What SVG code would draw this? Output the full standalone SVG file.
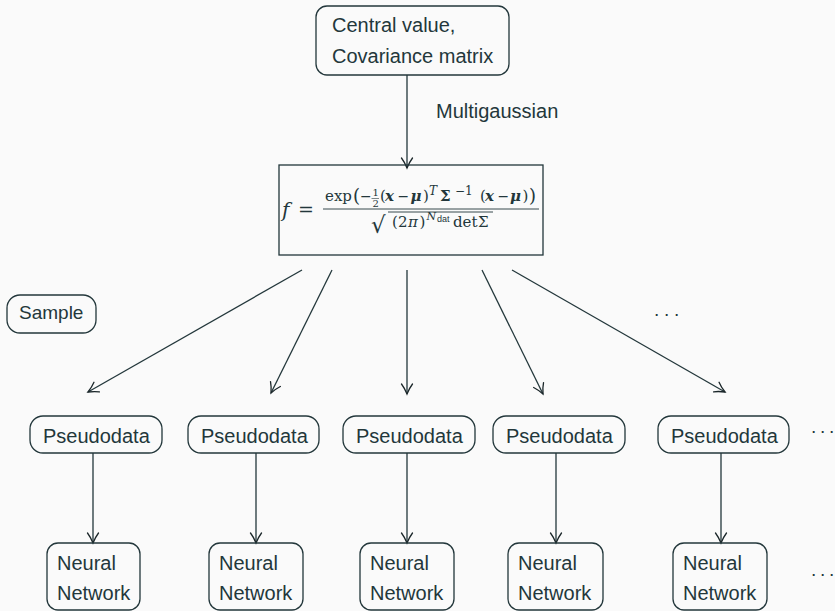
<svg xmlns="http://www.w3.org/2000/svg" width="835" height="611" viewBox="0 0 835 611">
<defs>
<style>
.bg{fill:#fafafa}
.node{fill:none;stroke:#23373b;stroke-width:1.3}
.lbl{font-family:"Liberation Sans",Arial,sans-serif;font-size:20px;fill:#23373b}
.edge{stroke:#23373b;stroke-width:1.3;fill:none}
.m{font-family:"DejaVu Serif","Liberation Serif",serif;font-size:15px;fill:#23373b}
.bi{font-weight:bold;font-style:italic}
.dots{font-family:"Liberation Sans",Arial,sans-serif;font-size:19px;fill:#23373b}
</style>
<marker id="arr" viewBox="-12 -7 14 14" refX="0" refY="0" markerWidth="14" markerHeight="14" markerUnits="userSpaceOnUse" orient="auto">
<path d="M-10,-5.5 C-6,-2.5 -1.5,-0.6 0,0 C-1.5,0.6 -6,2.5 -10,5.5" fill="none" stroke="#1a2629" stroke-width="1.3" stroke-linecap="round"/>
</marker>
</defs>
<rect class="bg" x="0" y="0" width="835" height="611"/>

<g id="connectors">
<line class="edge" x1="407" y1="75" x2="407" y2="168" marker-end="url(#arr)"/>
<line class="edge" x1="302" y1="270" x2="88" y2="392" marker-end="url(#arr)"/>
<line class="edge" x1="332" y1="270" x2="271" y2="393" marker-end="url(#arr)"/>
<line class="edge" x1="407" y1="270" x2="407" y2="394" marker-end="url(#arr)"/>
<line class="edge" x1="482" y1="270" x2="543" y2="394" marker-end="url(#arr)"/>
<line class="edge" x1="512" y1="270" x2="725" y2="392" marker-end="url(#arr)"/>
<line class="edge" x1="93" y1="453" x2="93" y2="543" marker-end="url(#arr)"/>
<line class="edge" x1="256" y1="453" x2="256" y2="543" marker-end="url(#arr)"/>
<line class="edge" x1="407" y1="453" x2="407" y2="543" marker-end="url(#arr)"/>
<line class="edge" x1="556" y1="453" x2="556" y2="543" marker-end="url(#arr)"/>
<line class="edge" x1="721" y1="453" x2="721" y2="543" marker-end="url(#arr)"/>
<text class="lbl" x="436" y="118">Multigaussian</text>
</g>

<g id="input">
<rect class="node" x="316" y="6" width="193" height="69" rx="11"/>
<text class="lbl" x="332" y="32">Central value,</text>
<text class="lbl" x="332" y="63">Covariance matrix</text>
</g>

<g id="formula">
<rect class="node" x="279" y="165" width="264" height="90"/>
<text class="m" style="font-size:20px;font-style:italic" x="282" y="217">f</text>
<text class="m" style="font-size:19px" x="298" y="216">=</text>
<line x1="323" y1="209" x2="539" y2="209" stroke="#23373b" stroke-width="0.9"/>
<text class="m" y="201"><tspan x="325">exp</tspan><tspan x="353" y="202" style="font-size:18px">(</tspan><tspan x="360" y="201" style="font-size:14px">−</tspan></text>
<text class="m" style="font-size:10px" x="372.5" y="196">1</text>
<line x1="371.5" y1="198.5" x2="379" y2="198.5" stroke="#23373b" stroke-width="0.6"/>
<text class="m" style="font-size:10px" x="372.5" y="206.5">2</text>
<text class="m" y="201"><tspan x="380">(</tspan><tspan x="385" class="bi">x</tspan><tspan x="397.5" style="font-size:14px">−</tspan><tspan x="410.5" class="bi">μ</tspan><tspan x="423">)</tspan><tspan x="440" style="font-weight:bold">Σ</tspan><tspan x="480">(</tspan><tspan x="485" class="bi">x</tspan><tspan x="497.5" style="font-size:14px">−</tspan><tspan x="510" class="bi">μ</tspan><tspan x="522.5">)</tspan><tspan x="529" y="202" style="font-size:18px">)</tspan></text>
<text class="m" style="font-size:12px" y="195"><tspan x="429" style="font-style:italic">T</tspan><tspan x="455">−1</tspan></text>
<text class="m" style="font-size:23px" x="371" y="233">√</text>
<line x1="388" y1="212" x2="493" y2="212" stroke="#23373b" stroke-width="0.9"/>
<text class="m" y="227"><tspan x="392">(</tspan><tspan x="398">2</tspan><tspan x="408" style="font-style:italic">π</tspan><tspan x="419.5">)</tspan><tspan x="453">det</tspan><tspan x="478">Σ</tspan></text>
<text class="m" style="font-size:11px;font-style:italic" x="426.5" y="220">N</text>
<text style="font-family:'Liberation Sans',Arial,sans-serif;font-size:9px;fill:#23373b" x="437" y="222">dat</text>
</g>

<g id="sample">
<rect class="node" x="7" y="295" width="89" height="38" rx="13"/>
<text class="lbl" x="19" y="319" style="font-size:19px">Sample</text>
</g>

<text class="dots" y="320"><tspan x="653.4">·</tspan><tspan x="663.4">·</tspan><tspan x="673.4">·</tspan></text>
<text class="dots" y="437"><tspan x="810.5">·</tspan><tspan x="819.5">·</tspan><tspan x="828.5">·</tspan></text>
<text class="dots" y="580"><tspan x="810.5">·</tspan><tspan x="819.5">·</tspan><tspan x="828.5">·</tspan></text>

<g id="pseudo1"><rect class="node" x="30" y="416" width="132" height="37" rx="13"/><text class="lbl" x="43" y="443">Pseudodata</text></g>
<g id="pseudo2"><rect class="node" x="188" y="416" width="131" height="37" rx="13"/><text class="lbl" x="201" y="443">Pseudodata</text></g>
<g id="pseudo3"><rect class="node" x="343" y="416" width="132" height="37" rx="13"/><text class="lbl" x="356" y="443">Pseudodata</text></g>
<g id="pseudo4"><rect class="node" x="493" y="416" width="132" height="37" rx="13"/><text class="lbl" x="506" y="443">Pseudodata</text></g>
<g id="pseudo5"><rect class="node" x="658" y="416" width="131" height="37" rx="13"/><text class="lbl" x="671" y="443">Pseudodata</text></g>

<g id="nn1"><rect class="node" x="47" y="543" width="93" height="67" rx="11"/><text class="lbl" x="57" y="570">Neural</text><text class="lbl" x="57" y="600">Network</text></g>
<g id="nn2"><rect class="node" x="209" y="543" width="94" height="67" rx="11"/><text class="lbl" x="219" y="570">Neural</text><text class="lbl" x="219" y="600">Network</text></g>
<g id="nn3"><rect class="node" x="360" y="543" width="94" height="67" rx="11"/><text class="lbl" x="370" y="570">Neural</text><text class="lbl" x="370" y="600">Network</text></g>
<g id="nn4"><rect class="node" x="508" y="543" width="95" height="67" rx="11"/><text class="lbl" x="518" y="570">Neural</text><text class="lbl" x="518" y="600">Network</text></g>
<g id="nn5"><rect class="node" x="673" y="543" width="94" height="67" rx="11"/><text class="lbl" x="683" y="570">Neural</text><text class="lbl" x="683" y="600">Network</text></g>
</svg>
